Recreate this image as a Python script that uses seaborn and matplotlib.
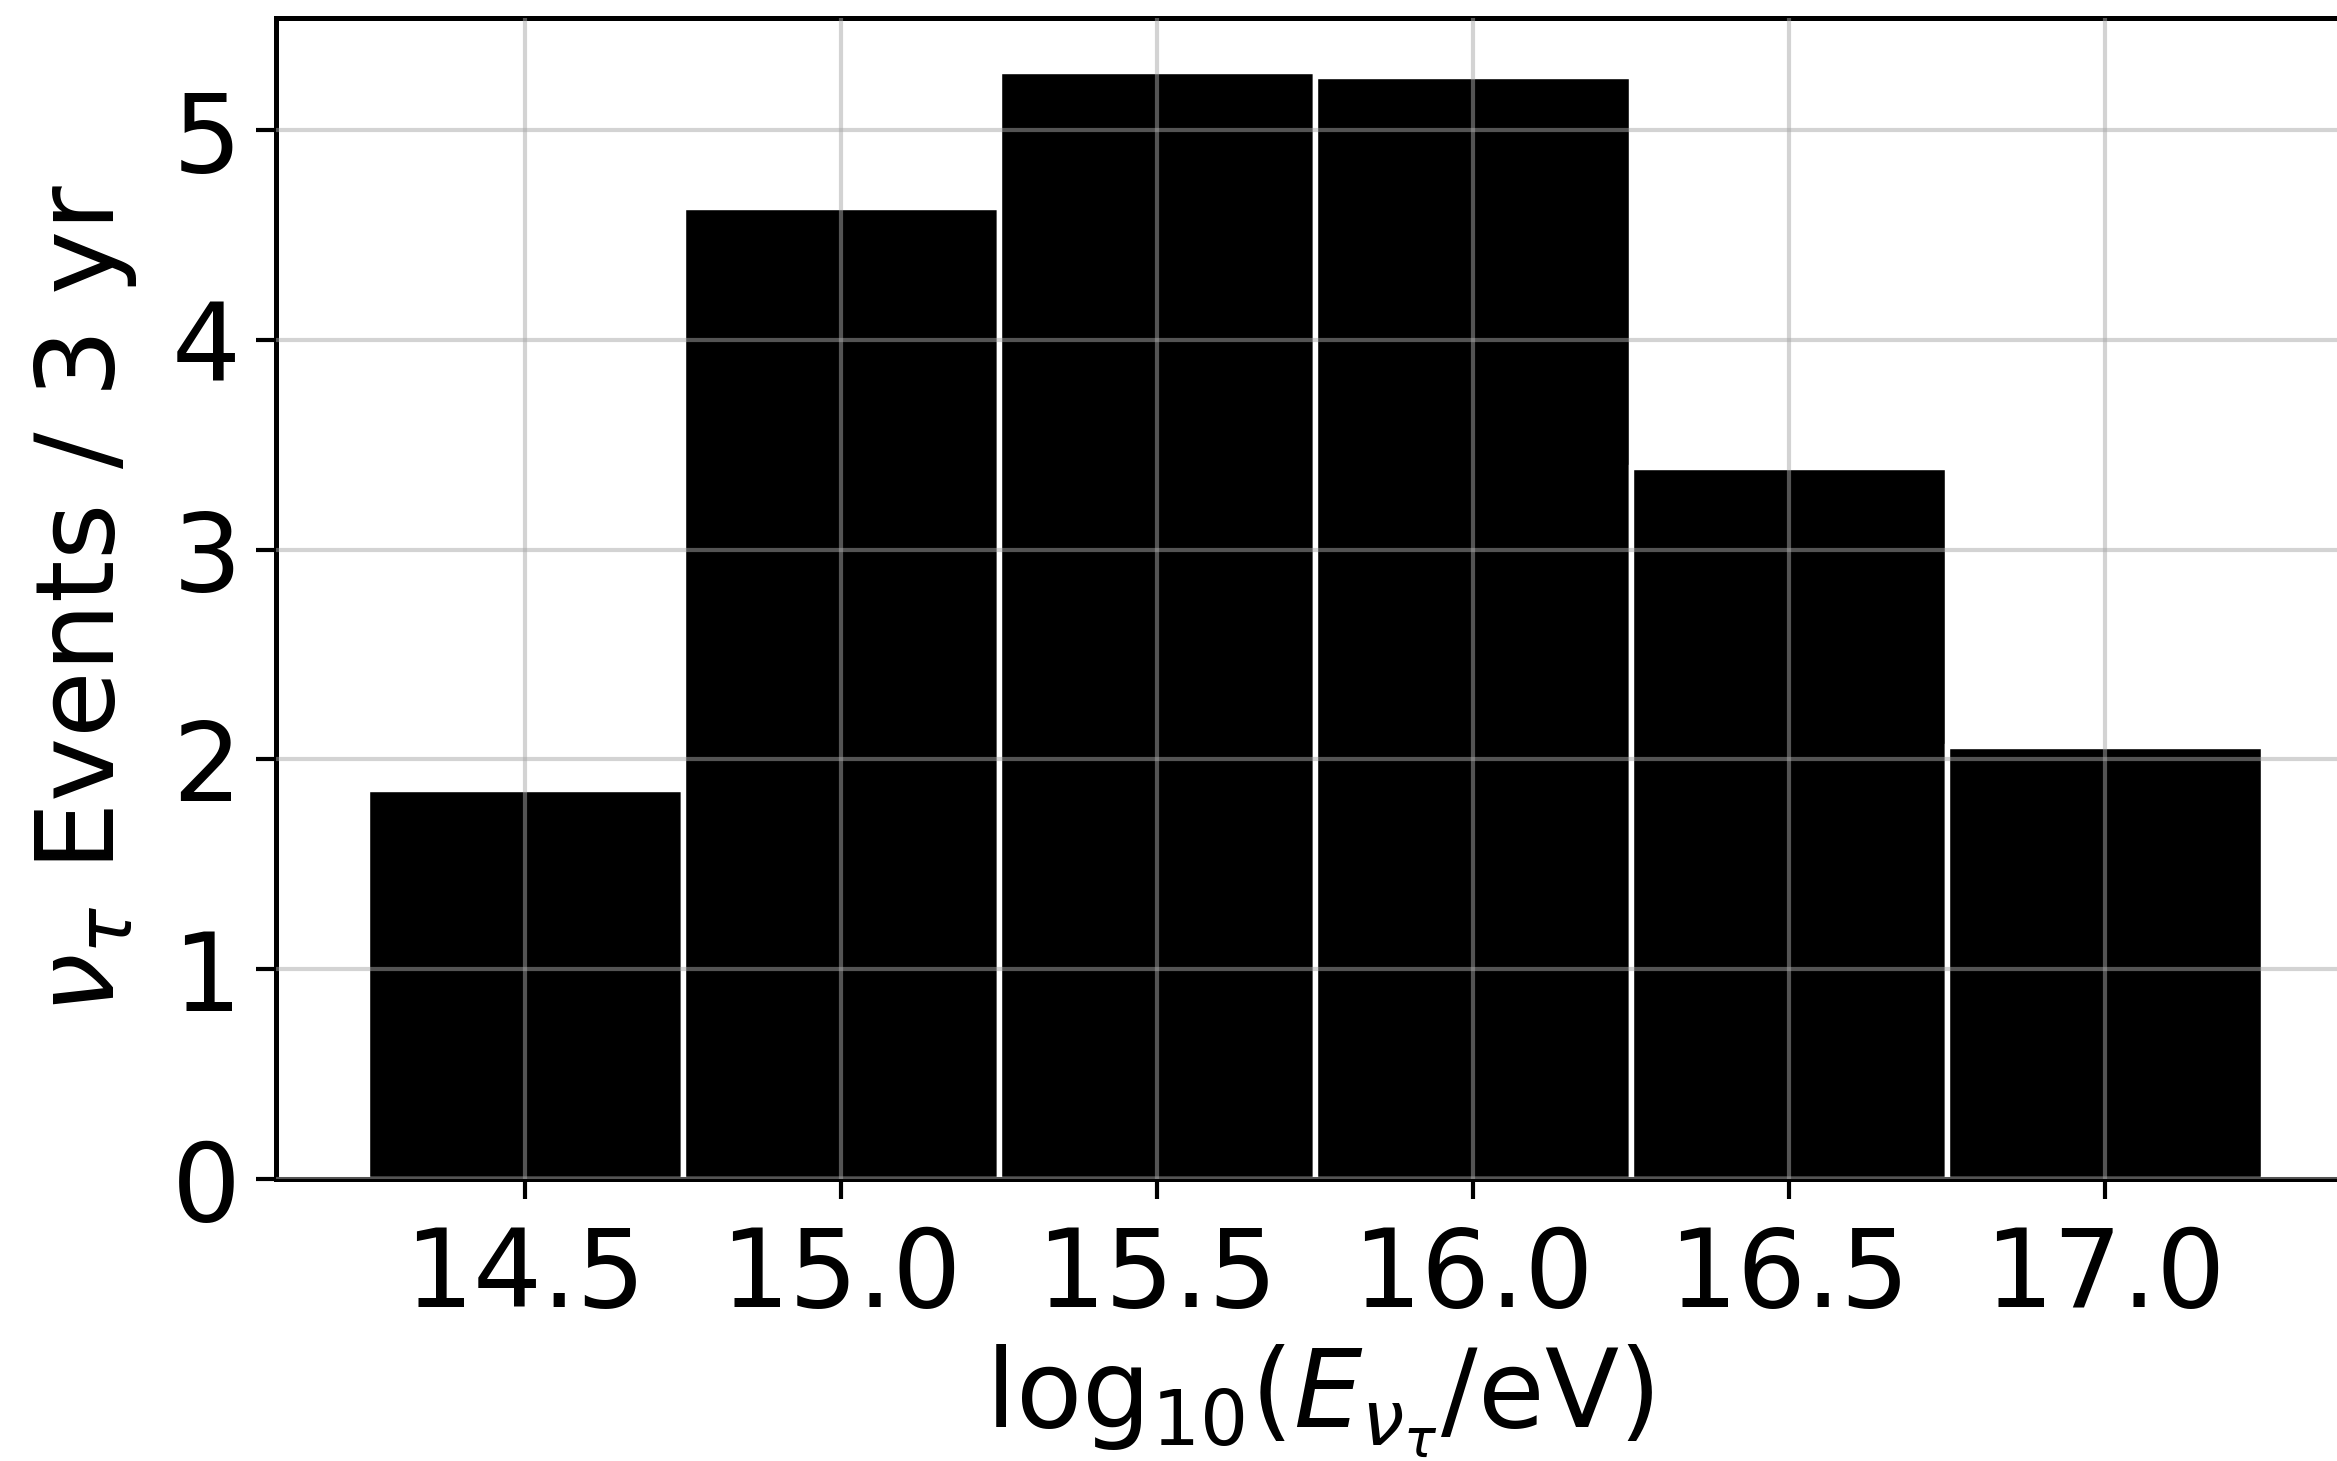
import matplotlib
matplotlib.use("Agg")
import matplotlib.pyplot as plt
import seaborn as sns
import numpy as np

# Data
bin_centers = [14.5, 15.0, 15.5, 16.0, 16.5, 17.0]
events = [1.86, 4.635, 5.28, 5.26, 3.395, 2.065]
bin_edges = [14.25, 14.75, 15.25, 15.75, 16.25, 16.75, 17.25]
xticks = [14.5, 15.0, 15.5, 16.0, 16.5, 17.0]
yticks = [0, 1, 2, 3, 4, 5]

sns.set_style("white")
plt.rcParams['font.family'] = ['DejaVu Sans']
plt.rcParams['mathtext.fontset'] = 'dejavusans'

DPI = 300
fig = plt.figure(figsize=(2337 / DPI, 1461 / DPI), dpi=DPI)
ax = fig.add_axes([0.118, 0.193, 0.8925, 0.7947])

sns.histplot(x=bin_centers, weights=events, bins=bin_edges, ax=ax,
             color="black", alpha=1.0, edgecolor="white", linewidth=1.3)

ax.set_xlim(14.106, 17.406)
ax.set_ylim(0, 5.535)
ax.set_xticks(xticks)
ax.set_xticklabels([f"{t:.1f}" for t in xticks])
ax.set_yticks(yticks)

ax.set_axisbelow(False)
ax.grid(True, color="darkgray", alpha=0.5, linewidth=1.0)

for s in ["left", "top", "bottom", "right"]:
    ax.spines[s].set_visible(True)
    ax.spines[s].set_color("black")
    ax.spines[s].set_linewidth(1.2)

ax.tick_params(axis="both", which="major", labelsize=26, length=4.8, width=1.0,
               direction="out", bottom=True, left=True, color="black", labelcolor="black")
ax.tick_params(axis="x", pad=6)

ax.set_xlabel(r"log$_{10}$($E_{\nu_\tau}$/eV)", fontsize=26, color="black", labelpad=3)
ax.set_ylabel(r"$\nu_\tau$ Events / 3 yr", fontsize=26, color="black", labelpad=8)

fig.savefig("out.png", dpi=DPI)
